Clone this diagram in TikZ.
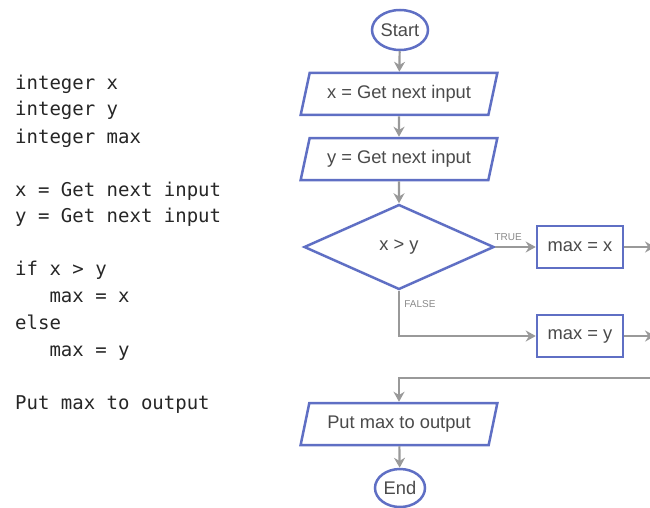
\documentclass[tikz,border=0pt]{standalone}
\usepackage{fontspec}
\setmainfont{Liberation Sans}
\newfontfamily\codefont{DejaVu Sans Mono}
\usetikzlibrary{shapes.geometric,arrows.meta}
\definecolor{fcblue}{HTML}{5F6FC4}
\definecolor{fcgray}{HTML}{999999}
\definecolor{fctext}{HTML}{4A4A4A}
\tikzset{
  flowline/.style={draw=fcblue,line width=2.5pt,fill=white,text=fctext,font=\fontsize{18.3}{21}\selectfont},
  terminal/.style={flowline,ellipse,inner sep=0pt},
  iobox/.style={flowline,trapezium,trapezium left angle=67,trapezium right angle=113,
    trapezium stretches=true,minimum width=197pt,minimum height=42pt,inner sep=0pt},
  procbox/.style={flowline,rectangle,minimum width=86pt,minimum height=42pt,inner sep=0pt},
  decision/.style={flowline,diamond,aspect=2.2,minimum width=190pt,minimum height=85pt,inner sep=0pt},
  conn/.style={draw=fcgray,line width=2.2pt,-{Stealth[length=10pt,width=11pt]}},
  branch/.style={text=fcgray!90!black,font=\fontsize{10}{11}\selectfont},
  codeline/.style={anchor=base west,inner sep=0pt,text=black!85,font=\codefont\fontsize{19}{22}\selectfont}
}
\begin{document}
\begin{tikzpicture}[x=1pt,y=-1pt]
\useasboundingbox (0,0) rectangle (650,508);
% code
\node[codeline] (c1) at (15,90) {integer x};
\node[codeline] (c2) at (15,116) {integer y};
\node[codeline] (c3) at (15,143) {integer max};
\node[codeline] (c4) at (15,196) {x = Get next input};
\node[codeline] (c5) at (15,222) {y = Get next input};
\node[codeline] (c6) at (15,275) {if x > y};
\node[codeline] (c7) at (15,302) {\ \ \ max = x};
\node[codeline] (c8) at (15,329) {else};
\node[codeline] (c9) at (15,356) {\ \ \ max = y};
\node[codeline] (c10) at (15,409) {Put max to output};
% flowchart
\node[terminal,minimum width=56pt,minimum height=40pt] (start) at (400,30) {Start};
\node[iobox] (inx) at (399,94) {x = Get next input};
\node[iobox] (iny) at (399,159) {y = Get next input};
\node[decision] (dec) at (399,247) {x > y};
\node[procbox] (mx) at (580,247) {max = x};
\node[procbox] (my) at (580,336) {max = y};
\node[iobox] (out) at (399,424) {Put max to output};
\node[terminal,minimum width=50pt,minimum height=38pt] (end) at (400,488) {End};
\coordinate (ex) at (655,247);
\coordinate (ey) at (655,336);
\coordinate (merge) at (660,378);
% connectors
\draw[conn] (start) -- (inx);
\draw[conn] (inx) -- (iny);
\draw[conn] (iny) -- (dec);
\draw[conn] (dec.east) -- node[branch,pos=0.32,above,yshift=2pt] (tl) {TRUE} (mx.west);
\draw[conn] (dec.south) -- node[branch,pos=0.3,right,xshift=1pt] (fl) {FALSE} (dec.south |- my.west) -- (my.west);
\draw[conn] (mx.east) -- (ex);
\draw[conn] (my.east) -- (ey);
\draw[conn] (merge) -- (merge -| out.north) -- (out.north);
\draw[conn] (out) -- (end);
\end{tikzpicture}
\end{document}
